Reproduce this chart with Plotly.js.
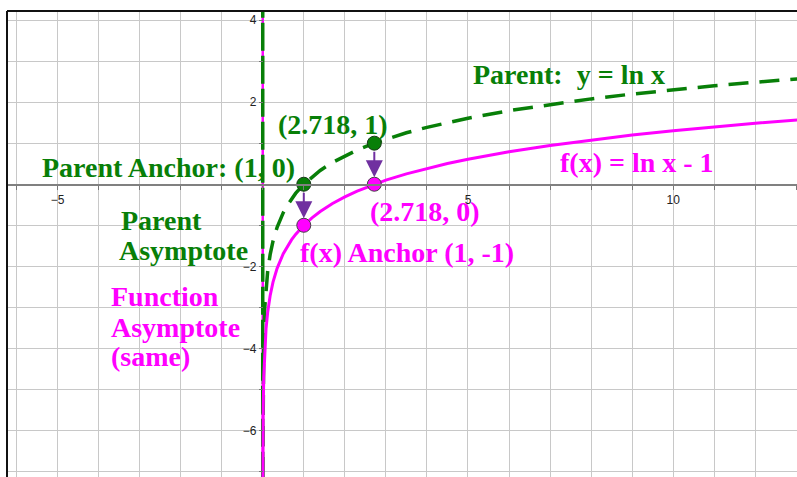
<!DOCTYPE html>
<html>
<head>
<meta charset="utf-8">
<script src="https://cdn.plot.ly/plotly-3.0.1.min.js"></script>
<style>html,body{margin:0;padding:0;background:#fff;}#chart{width:797px;height:477px;}</style>
</head>
<body>
<div id="chart"></div>
<script>
// Sample x values and curve values read for y = ln x and f(x) = ln x - 1
const xs = [0.0008, 0.0015, 0.003, 0.006, 0.012, 0.025, 0.05, 0.08, 0.12, 0.18, 0.25, 0.35, 0.5, 0.6, 0.7, 0.8, 1, 1.2, 1.4, 1.7, 2, 2.3, 2.718, 3, 3.5, 4, 4.5, 5, 6, 7, 8, 9, 10, 11, 12, 13.2];
const parentY = [-7.131, -6.502, -5.809, -5.116, -4.423, -3.689, -2.996, -2.526, -2.120, -1.715, -1.386, -1.050, -0.693, -0.511, -0.357, -0.223, 0, 0.182, 0.336, 0.531, 0.693, 0.833, 1.000, 1.099, 1.253, 1.386, 1.504, 1.609, 1.792, 1.946, 2.079, 2.197, 2.303, 2.398, 2.485, 2.580];
const fY = [-8.131, -7.502, -6.809, -6.116, -5.423, -4.689, -3.996, -3.526, -3.120, -2.715, -2.386, -2.050, -1.693, -1.511, -1.357, -1.223, -1, -0.818, -0.664, -0.469, -0.307, -0.167, 0.000, 0.099, 0.253, 0.386, 0.504, 0.609, 0.792, 0.946, 1.079, 1.197, 1.303, 1.398, 1.485, 1.580];

// Asymptote x = 0
const asymX = [0, 0];
const asymY = [-8, 5];

// Anchor points
const anchorX = [1, 2.718];
const parentAnchorY = [0, 1];
const fAnchorY = [-1, 0];

// Tick labels
const xTickVals = [-5, 5, 10];
const yTickVals = [-6, -4, -2, 2, 4];

const GREEN = '#087f08';
const MAGENTA = '#ff00ff';
const PURPLE = '#7030a0';

const xRange = [-6.23, 13.015];
const yRange = [-7.132, 4.22];

const traces = [
  {x: asymX, y: asymY, mode: 'lines', line: {color: MAGENTA, width: 2.5}, hoverinfo: 'skip'},
  {x: asymX, y: asymY, mode: 'lines', line: {color: GREEN, width: 3.5, dash: '28px,5px'}, hoverinfo: 'skip'},
  {x: xs, y: parentY, mode: 'lines', line: {color: GREEN, width: 3.5, dash: '20px,11px'}, hoverinfo: 'skip'},
  {x: xs, y: fY, mode: 'lines', line: {color: MAGENTA, width: 3}, hoverinfo: 'skip'},
  {x: anchorX, y: parentAnchorY, mode: 'markers', marker: {color: GREEN, size: 14, line: {color: '#1a3a1a', width: 1}}, hoverinfo: 'skip'},
  {x: anchorX, y: fAnchorY, mode: 'markers', marker: {color: MAGENTA, size: 14, line: {color: '#444', width: 1}}, hoverinfo: 'skip'}
];

const tfont = (c) => ({family: 'Liberation Serif, Times New Roman, serif', size: 28, color: c});
function label(text, x, y, c) {
  return {text: '<b>' + text + '</b>', x: x, y: y, xref: 'x', yref: 'y', xanchor: 'left', yanchor: 'middle', showarrow: false, font: tfont(c)};
}
const px2x = (p) => (p - 262.7) / 41.05;
const py2y = (p) => (184.3 - p) / 41.05;

const annotations = [
  label('Parent:&nbsp; y = ln x', px2x(471), py2y(75), GREEN),
  label('(2.718, 1)', px2x(276), py2y(125), GREEN),
  label('Parent Anchor: (1, 0)', px2x(40), py2y(168), GREEN),
  label('f(x) = ln x - 1', px2x(558), py2y(163), MAGENTA),
  label('(2.718, 0)', px2x(368), py2y(212), MAGENTA),
  label('Parent', px2x(119), py2y(221), GREEN),
  label('Asymptote', px2x(117), py2y(251), GREEN),
  label('f(x) Anchor (1, -1)', px2x(298), py2y(253), MAGENTA),
  label('Function', px2x(109), py2y(297), MAGENTA),
  label('Asymptote', px2x(109), py2y(328), MAGENTA),
  label('(same)', px2x(109), py2y(357), MAGENTA)
];
// Purple arrows from parent anchors down to function anchors
for (let i = 0; i < anchorX.length; i++) {
  annotations.push({
    x: anchorX[i], y: fAnchorY[i], ax: anchorX[i], ay: parentAnchorY[i],
    xref: 'x', yref: 'y', axref: 'x', ayref: 'y', text: '',
    showarrow: true, arrowhead: 2, arrowsize: 1.7, arrowwidth: 2, arrowcolor: PURPLE,
    standoff: 7, startstandoff: 7
  });
}

const tickFont = {family: 'Liberation Sans, Arial, sans-serif', size: 12, color: '#222'};
const layout = {
  width: 797, height: 477,
  margin: {l: 7, r: 0, t: 11, b: 0, pad: 0},
  paper_bgcolor: '#ffffff', plot_bgcolor: '#ffffff',
  showlegend: false,
  xaxis: {
    range: xRange, anchor: 'free', position: (0 - yRange[0]) / (yRange[1] - yRange[0]),
    tickmode: 'array', tickvals: xTickVals, ticks: 'outside', ticklen: 4, tickcolor: '#777', tickwidth: 1,
    tickfont: tickFont, showgrid: true, gridcolor: '#c8c8c8', gridwidth: 1,
    minor: {tickmode: 'linear', tick0: 0, dtick: 1, ticks: 'outside', ticklen: 4, tickcolor: '#777', showgrid: true, gridcolor: '#c8c8c8', gridwidth: 1},
    showline: true, linecolor: '#808080', linewidth: 1.5, zeroline: false, fixedrange: true
  },
  yaxis: {
    range: yRange, anchor: 'free', position: (0 - xRange[0]) / (xRange[1] - xRange[0]),
    tickmode: 'array', tickvals: yTickVals, ticks: 'outside', ticklen: 4, tickcolor: '#777', tickwidth: 1,
    tickfont: tickFont, showgrid: true, gridcolor: '#c8c8c8', gridwidth: 1,
    minor: {tickmode: 'linear', tick0: 0, dtick: 1, ticks: 'outside', ticklen: 4, tickcolor: '#777', showgrid: true, gridcolor: '#c8c8c8', gridwidth: 1},
    showline: false, zeroline: false, fixedrange: true
  },
  shapes: [
    {type: 'line', xref: 'paper', yref: 'paper', x0: 0, x1: 0, y0: 0, y1: 1, line: {color: '#111', width: 2}},
    {type: 'line', xref: 'paper', yref: 'paper', x0: 0, x1: 1, y0: 1, y1: 1, line: {color: '#111', width: 2}}
  ],
  annotations: annotations
};

Plotly.newPlot('chart', traces, layout, {displayModeBar: false, staticPlot: true});
</script>
</body>
</html>
